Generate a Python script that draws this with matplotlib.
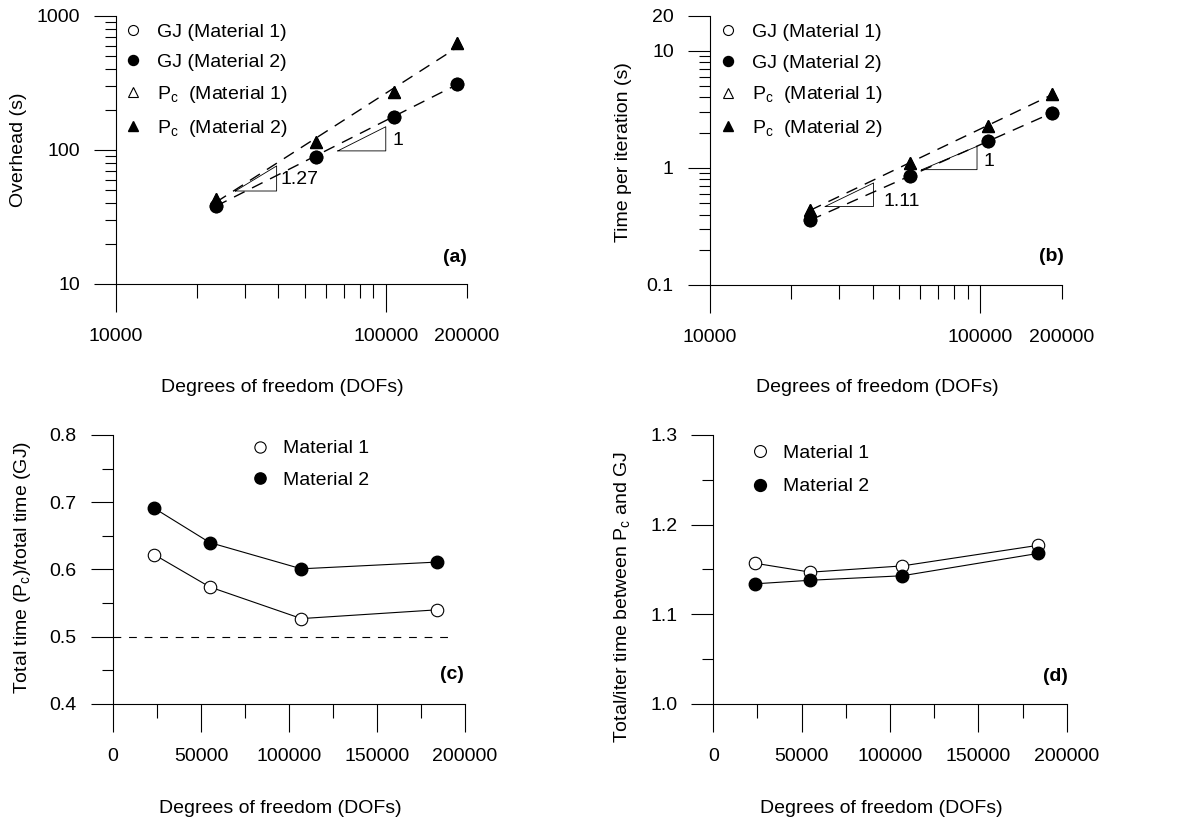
import matplotlib
matplotlib.use('Agg')
import matplotlib.pyplot as plt
from matplotlib.ticker import FixedLocator, FixedFormatter, NullFormatter
import numpy as np

plt.rcParams['font.family'] = ['Liberation Sans', 'DejaVu Sans']
plt.rcParams['font.size'] = 14
plt.rcParams['mathtext.fontset'] = 'custom'
plt.rcParams['mathtext.rm'] = 'Liberation Sans'
plt.rcParams['mathtext.it'] = 'Liberation Sans:italic'
plt.rcParams['axes.linewidth'] = 0.8

##Values
dofs = [23500, 55000, 107000, 184000]

# (a) overhead, (b) time per iteration - material 1 sits under material 2
overhead_gj_m1 = [38.5, 89, 177, 311]
overhead_gj_m2 = [38.5, 89, 177, 311]
overhead_pc_m1 = [43, 115, 272, 625]
overhead_pc_m2 = [43, 115, 272, 625]
iter_gj_m1 = [0.36, 0.85, 1.69, 2.96]
iter_gj_m2 = [0.36, 0.85, 1.69, 2.96]
iter_pc_m1 = [0.44, 1.10, 2.27, 4.3]
iter_pc_m2 = [0.44, 1.10, 2.27, 4.3]

# (c) total time ratio, (d) total/iter time ratio
ratio_m1 = [0.622, 0.574, 0.527, 0.540]
ratio_m2 = [0.691, 0.640, 0.601, 0.611]
speed_m1 = [1.157, 1.147, 1.154, 1.177]
speed_m2 = [1.134, 1.138, 1.143, 1.168]

# slope triangles: x left, x right, y bottom, y top, label
slopes_a = [(27700, 39400, 49.4, 76, '1.27'), (66400, 100000, 98.4, 149, '1')]
slopes_b = [(26700, 40300, 0.469, 0.744, '1.11'), (60800, 97300, 0.967, 1.53, '1')]
# nudges (points) of the slope labels
nudge_a = [(3, -1), (5, -1)]
nudge_b = [(7, -5), (4.5, -2.5)]

pc = r'P$_\mathregular{c}$'
fig = plt.figure(figsize=(11.88, 8.26), dpi=100)

ax_a = fig.add_axes([0.0976, 0.6562, 0.2955, 0.3245])
ax_b = fig.add_axes([0.5976, 0.6550, 0.2960, 0.3260])
ax_c = fig.add_axes([0.0951, 0.1477, 0.2963, 0.3257])
ax_d = fig.add_axes([0.6004, 0.1477, 0.2975, 0.3257])


def style_axes(ax):
    for s in ['top', 'right']:
        ax.spines[s].set_visible(False)
    ax.tick_params(axis='x', which='major', length=20, width=0.8, pad=12)
    ax.tick_params(axis='x', which='minor', length=10, width=0.8, pad=22)
    ax.tick_params(axis='y', which='major', length=16, width=0.8, pad=10)
    ax.tick_params(axis='y', which='minor', length=8, width=0.8)


def log_panel(ax, gj1, gj2, pc1, pc2, slopes, nudges, ylim, yticks, ylabels, yminor):
    ax.set_xscale('log')
    ax.set_yscale('log')
    x = np.array(dofs, dtype=float)
    # power law fits shown as dashed lines
    for y in [gj2, pc2]:
        m, b = np.polyfit(np.log10(x), np.log10(y), 1)
        ax.plot(x, 10 ** (m * np.log10(x) + b), color='black', lw=1, dashes=(8.5, 6))
    ax.plot(dofs, gj1, 'o', ms=9, mfc='white', mec='black', mew=0.8, label='GJ (Material 1)')
    ax.plot(dofs, gj2, 'o', ms=9, color='black', label='GJ (Material 2)')
    ax.plot(dofs, pc1, '^', ms=9, mfc='white', mec='black', mew=0.8, label=pc + '  (Material 1)')
    ax.plot(dofs, pc2, '^', ms=9, color='black', label=pc + '  (Material 2)')
    for (x0, x1, y0, y1, lab), dxy in zip(slopes, nudges):
        ax.plot([x0, x1, x1, x0], [y0, y1, y0, y0], color='black', lw=0.6)
        ax.annotate(lab, xy=(x1, np.sqrt(y0 * y1)), xytext=dxy, textcoords='offset points',
                    va='center', ha='left')
    ax.set_xlim(1e4, 2e5)
    ax.set_ylim(*ylim)
    ax.xaxis.set_major_locator(FixedLocator([1e4, 1e5]))
    ax.xaxis.set_major_formatter(FixedFormatter(['10000', '100000']))
    xmin = [2e4, 3e4, 4e4, 5e4, 6e4, 7e4, 8e4, 9e4, 2e5]
    ax.xaxis.set_minor_locator(FixedLocator(xmin))
    ax.xaxis.set_minor_formatter(FixedFormatter([''] * 8 + ['200000']))
    ax.yaxis.set_major_locator(FixedLocator(yticks))
    ax.yaxis.set_major_formatter(FixedFormatter(ylabels))
    ax.yaxis.set_minor_locator(FixedLocator(yminor))
    ax.yaxis.set_minor_formatter(NullFormatter())
    style_axes(ax)


log_panel(ax_a, overhead_gj_m1, overhead_gj_m2, overhead_pc_m1, overhead_pc_m2, slopes_a, nudge_a,
          (10, 1000), [10, 100, 1000], ['10', '100', '1000'],
          [k * 10 for k in range(2, 10)] + [k * 100 for k in range(2, 10)])
log_panel(ax_b, iter_gj_m1, iter_gj_m2, iter_pc_m1, iter_pc_m2, slopes_b, nudge_b,
          (0.1, 20), [0.1, 1, 10, 20], ['0.1', '1', '10', '20'],
          [k * 0.1 for k in range(2, 10)] + [k * 1.0 for k in range(2, 10)])

ax_a.set_ylabel('Overhead (s)')
ax_b.set_ylabel('Time per iteration (s)')

for ax, x0, top in [(ax_a, 0.021, 0.974), (ax_b, 0.023, 0.971)]:
    ax.legend(loc='upper left', bbox_to_anchor=(x0, top), frameon=False, borderpad=0,
              borderaxespad=0, handlelength=1.0, handletextpad=0.75, labelspacing=0.66,
              markerscale=0.8)


def lin_panel(ax, m1, m2, ylim, yticks, yminor):
    # connecting lines first, markers (legend entries) on top
    ax.plot(dofs, m1, '-', color='black', lw=0.8)
    ax.plot(dofs, m2, '-', color='black', lw=0.8)
    ax.plot(dofs, m1, 'o', ms=9, mfc='white', mec='black', mew=0.8, label='Material 1')
    ax.plot(dofs, m2, 'o', ms=9, color='black', label='Material 2')
    ax.set_xlim(0, 200000)
    ax.set_ylim(*ylim)
    ax.set_xticks([0, 50000, 100000, 150000, 200000])
    ax.set_xticklabels(['0', '50000', '100000', '150000', '200000'])
    ax.set_xticks([25000, 75000, 125000, 175000], minor=True)
    ax.set_yticks(yticks)
    ax.set_yticklabels(['%.1f' % v for v in yticks])
    ax.set_yticks(yminor, minor=True)
    style_axes(ax)


lin_panel(ax_c, ratio_m1, ratio_m2, (0.4, 0.8), [0.4, 0.5, 0.6, 0.7, 0.8], [0.45, 0.55, 0.65, 0.75])
ax_c.plot([0, 193000], [0.5, 0.5], color='black', lw=0.8, dashes=(7, 7))
lin_panel(ax_d, speed_m1, speed_m2, (1.0, 1.3), [1.0, 1.1, 1.2, 1.3], [1.05, 1.15, 1.25])

ax_c.set_ylabel('Total time (' + pc + ')/total time (GJ)')
ax_d.set_ylabel('Total/iter time between ' + pc + ' and GJ')

ax_c.legend(loc='upper left', bbox_to_anchor=(0.39, 0.982), frameon=False, borderpad=0,
            borderaxespad=0, handlelength=1.0, handletextpad=0.7, labelspacing=0.73,
            markerscale=0.9)
ax_d.legend(loc='upper left', bbox_to_anchor=(0.105, 0.964), frameon=False, borderpad=0,
            borderaxespad=0, handlelength=1.0, handletextpad=0.7, labelspacing=0.8,
            markerscale=0.95)

# axis label placement
for ax, xl, yl in [(ax_a, (0.474, -0.388), (-0.279, 0.5)),
                   (ax_b, (0.475, -0.382), (-0.247, 0.492)),
                   (ax_c, (0.474, -0.388), (-0.256, 0.506)),
                   (ax_d, (0.476, -0.388), (-0.259, 0.399))]:
    ax.set_xlabel('Degrees of freedom (DOFs)')
    ax.xaxis.set_label_coords(*xl)
    ax.xaxis.label.set_va('center')
    ax.yaxis.set_label_coords(*yl)
    ax.yaxis.label.set_va('center')

for ax, lab, pos in [(ax_a, '(a)', (0.966, 0.10)), (ax_b, '(b)', (0.972, 0.104)),
                     (ax_c, '(c)', (0.962, 0.108)), (ax_d, '(d)', (0.967, 0.101))]:
    ax.text(pos[0], pos[1], lab, transform=ax.transAxes, ha='center', va='center',
            fontweight='bold')

fig.savefig('out.png', dpi=100)
